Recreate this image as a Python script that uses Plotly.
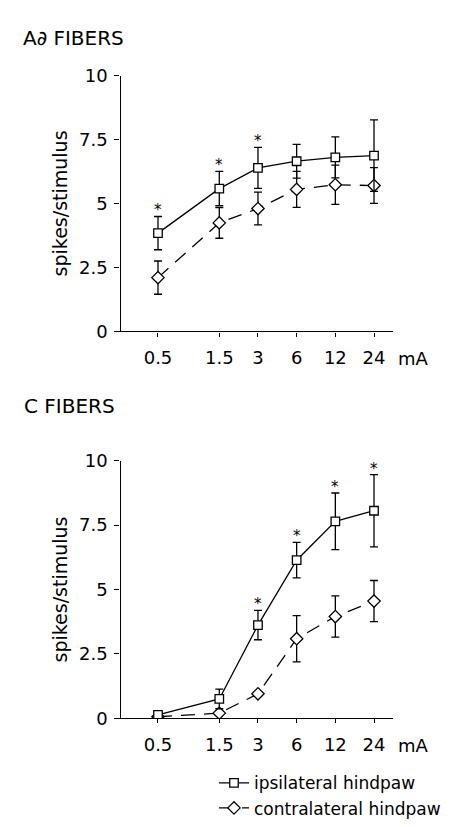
import math
import plotly.graph_objects as go

# ---- data ----
doses = [0.5, 1.5, 3, 6, 12, 24]
dose_labels = ["0.5", "1.5", "3", "6", "12", "24"]

# A-delta fibers
ad_ipsi = [3.84, 5.58, 6.39, 6.65, 6.80, 6.87]
ad_ipsi_err = [0.65, 0.67, 0.80, 0.66, 0.80, 1.40]
ad_contra = [2.10, 4.24, 4.80, 5.55, 5.73, 5.70]
ad_contra_err = [0.65, 0.60, 0.64, 0.70, 0.77, 0.70]
ad_sig = [True, True, True, False, False, False]

# C fibers
c_ipsi = [0.13, 0.75, 3.62, 6.14, 7.65, 8.06]
c_ipsi_err = [0.0, 0.38, 0.57, 0.69, 1.10, 1.40]
c_contra = [0.06, 0.20, 0.95, 3.09, 3.95, 4.55]
c_contra_err = [0.0, 0.0, 0.0, 0.90, 0.80, 0.80]
c_sig = [False, False, True, True, True, True]

yticks = [0, 2.5, 5, 7.5, 10]
ytick_labels = ["0", "2.5", "5", "7.5", "10"]

FONT = "DejaVu Sans, Liberation Sans, Arial"
W, H = 464, 827

fig = go.Figure()
annotations = []

def add_panel(ipsi, ipsi_err, contra, contra_err, sig, xa, ya, legend):
    fig.add_trace(go.Scatter(
        x=doses, y=contra, mode="lines+markers", name="contralateral hindpaw",
        xaxis=xa, yaxis=ya, showlegend=legend, legendrank=2,
        line=dict(color="black", width=1.3, dash="14px,9px"),
        marker=dict(symbol="diamond", size=9.5, color="white",
                    line=dict(color="black", width=1.3)),
        error_y=dict(type="data", array=contra_err, visible=True,
                     color="black", thickness=1.3, width=4),
    ))
    fig.add_trace(go.Scatter(
        x=doses, y=ipsi, mode="lines+markers", name="ipsilateral hindpaw",
        xaxis=xa, yaxis=ya, showlegend=legend, legendrank=1,
        line=dict(color="black", width=1.3),
        marker=dict(symbol="square", size=8.5, color="white",
                    line=dict(color="black", width=1.3)),
        error_y=dict(type="data", array=ipsi_err, visible=True,
                     color="black", thickness=1.3, width=4),
    ))
    for d, v, e, s in zip(doses, ipsi, ipsi_err, sig):
        if s:
            annotations.append(dict(
                text="*", x=math.log10(d), y=v + e, xref=xa, yref=ya,
                yshift=6, xanchor="center", yanchor="middle", showarrow=False,
                font=dict(family=FONT, size=15, color="black")))
    annotations.append(dict(
        text="mA", x=math.log10(doses[-1]), y=0, xref=xa, yref=ya,
        xshift=39, yshift=-27, xanchor="center", yanchor="middle",
        showarrow=False, font=dict(family=FONT, size=18, color="black")))

add_panel(ad_ipsi, ad_ipsi_err, ad_contra, ad_contra_err, ad_sig, "x", "y", True)
add_panel(c_ipsi, c_ipsi_err, c_contra, c_contra_err, c_sig, "x2", "y2", False)

x_left, x_right, y_axis_px = 107, 385, 111.5
xdom = [x_left / W, x_right / W]
xrange_log = [-0.6356, 1.528]

def xaxis_cfg(anchor):
    return dict(
        type="log", domain=xdom, range=xrange_log, anchor=anchor,
        tickvals=doses, ticktext=dose_labels, ticks="outside", ticklen=4,
        tickwidth=1.2, tickcolor="black", showline=True, linecolor="black",
        linewidth=1.3, showgrid=False, zeroline=False, ticklabelstandoff=6,
        tickfont=dict(family=FONT, size=18, color="black"),
    )

def yaxis_cfg(dom):
    return dict(
        domain=dom, range=[0, 10], anchor="free", position=y_axis_px / W,
        tickvals=yticks, ticktext=ytick_labels, ticks="outside", ticklen=5,
        tickwidth=1.2, tickcolor="black", showline=True, linecolor="black",
        linewidth=1.3, showgrid=False, zeroline=False, ticklabelstandoff=3,
        tickfont=dict(family=FONT, size=18, color="black"),
        title=dict(text="spikes/stimulus", standoff=5,
                   font=dict(family=FONT, size=19, color="black")),
    )

top_dom = [1 - 320.5 / H, 1 - 58 / H]
bot_dom = [1 - 717.5 / H, 1 - 453.3 / H]

annotations += [
    dict(text="A∂ FIBERS", x=13 / W, y=1 - 19 / H, xref="paper", yref="paper",
         xanchor="left", yanchor="middle", showarrow=False,
         font=dict(family=FONT, size=20, color="black")),
    dict(text="C FIBERS", x=14 / W, y=1 - 397 / H, xref="paper", yref="paper",
         xanchor="left", yanchor="middle", showarrow=False,
         font=dict(family=FONT, size=20, color="black")),
]

fig.update_layout(
    width=W, height=H,
    margin=dict(l=0, r=0, t=0, b=0),
    paper_bgcolor="white", plot_bgcolor="white",
    font=dict(family=FONT, color="black"),
    xaxis=xaxis_cfg("y"),
    xaxis2=xaxis_cfg("y2"),
    yaxis=yaxis_cfg(top_dom),
    yaxis2=yaxis_cfg(bot_dom),
    showlegend=True,
    legend=dict(x=206 / W, y=1 - 797 / H, xanchor="left", yanchor="middle",
                orientation="v", bgcolor="rgba(0,0,0,0)",
                font=dict(family=FONT, size=17, color="black"),
                itemwidth=30, tracegroupgap=0),
    annotations=annotations,
)

fig.write_html("out.html")
